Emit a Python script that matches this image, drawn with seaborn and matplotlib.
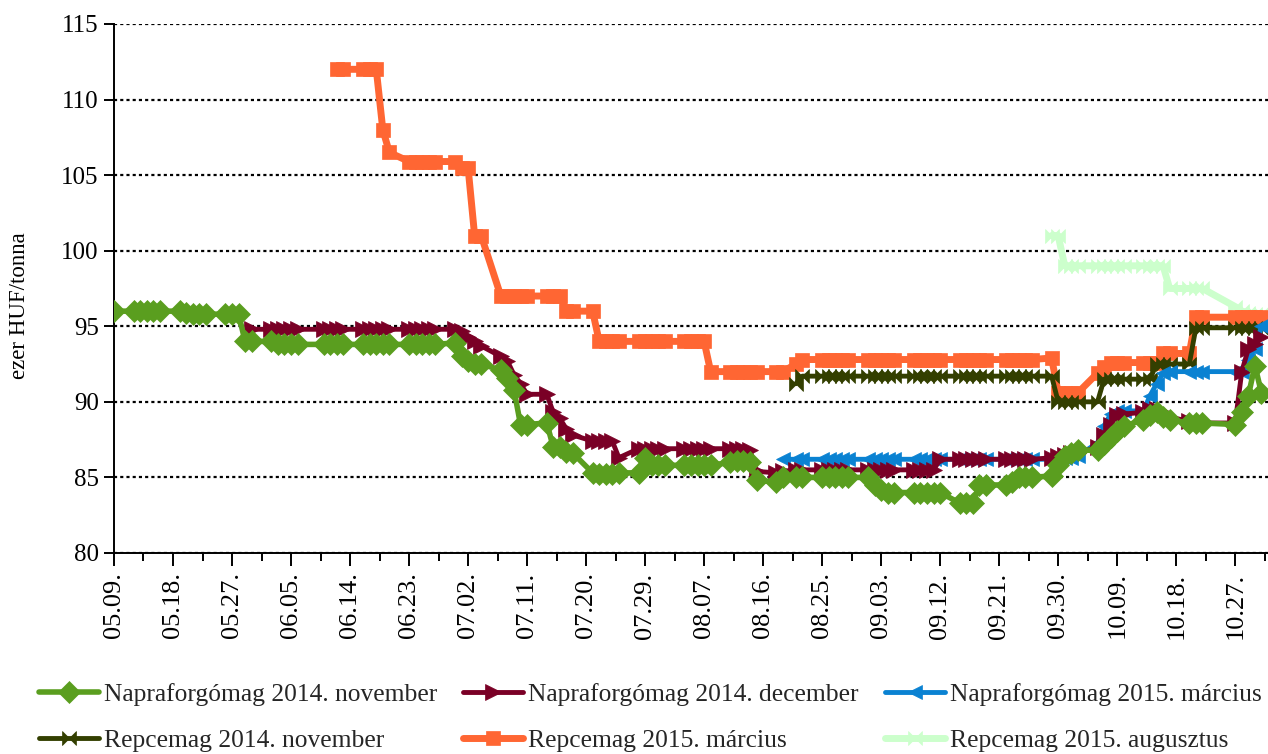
import numpy as np
import pandas as pd
import seaborn as sns
import matplotlib.pyplot as plt
import matplotlib.dates as mdates
from matplotlib.ticker import FixedLocator

# kereskedési napok 2014 (hétvégék és ünnepnapok nélkül)
napok = pd.bdate_range('2014-05-09', '2014-10-31')
napok = napok.drop(pd.to_datetime(['2014-06-09', '2014-08-20', '2014-10-23', '2014-10-24']))

nevek = ['Napraforgómag 2014. november', 'Napraforgómag 2014. december',
         'Napraforgómag 2015. március', 'Repcemag 2014. november',
         'Repcemag 2015. március', 'Repcemag 2015. augusztus']
kezdet = ['2014-05-09', '2014-05-30', '2014-08-19', '2014-08-21', '2014-06-12', '2014-09-29']

# egy sor = egy hét
napra_nov = [96.0,
             96.0, 96.0, 96.0, 96.0, 96.0,
             96.0, 95.9, 95.8, 95.8, 95.8,
             95.8, 95.8, 95.8, 94.0, 94.0,
             94.0, 93.8, 93.8, 93.8, 93.8,
             93.8, 93.8, 93.8, 93.8,
             93.8, 93.8, 93.8, 93.8, 93.8,
             93.8, 93.8, 93.8, 93.8, 93.8,
             93.9, 93.0, 92.7, 92.5, 92.5,
             92.1, 91.6, 90.8, 88.5, 88.5,
             88.6, 87.0, 87.0, 86.7, 86.6,
             85.3, 85.2, 85.2, 85.2, 85.3,
             85.3, 86.3, 85.8, 85.8, 85.8,
             85.8, 85.8, 85.8, 85.8, 85.8,
             86.0, 86.1, 86.1, 86.0, 84.8,
             84.7, 85.0, 85.0, 85.0,
             85.0, 85.0, 85.0, 85.0, 85.0,
             85.0, 84.5, 84.2, 84.0, 84.0,
             84.0, 84.0, 84.0, 84.0, 84.0,
             83.3, 83.3, 83.3, 84.5, 84.5,
             84.5, 84.7, 85.0, 85.0, 85.0,
             85.1, 85.8, 86.4, 86.6, 86.8,
             86.8, 87.2, 87.7, 88.1, 88.4,
             88.8, 89.1, 89.3, 89.0, 88.8,
             88.6, 88.6, 88.6,
             88.5, 89.3, 90.4, 92.4, 90.6]

napra_dec = [94.8,
             94.8, 94.8, 94.8, 94.8, 94.8,
             94.8, 94.8, 94.8, 94.8,
             94.8, 94.8, 94.8, 94.8, 94.8,
             94.8, 94.8, 94.8, 94.8, 94.8,
             94.8, 94.7, 94.3, 94.0, 93.7,
             93.0, 92.7, 91.8, 91.2, 90.5,
             90.5, 89.3, 88.9, 88.2, 87.8,
             87.4, 87.4, 87.4, 87.4, 86.3,
             86.9, 86.9, 86.9, 86.9, 86.9,
             86.9, 86.9, 86.9, 86.9, 86.9,
             86.9, 86.9, 86.9, 86.8, 85.4,
             85.3, 85.4, 85.5, 85.5,
             85.5, 85.5, 85.5, 85.5, 85.5,
             85.5, 85.5, 85.5, 85.5, 85.5,
             85.5, 85.5, 85.5, 85.5, 86.2,
             86.2, 86.2, 86.2, 86.2, 86.2,
             86.2, 86.2, 86.2, 86.2, 86.2,
             86.3, 86.4, 86.5, 86.6, 86.6,
             87.0, 87.8, 88.5, 89.1, 89.2,
             89.3, 89.5, 89.5, 89.3, 89.0,
             88.7, 88.6, 88.6,
             88.6, 92.0, 93.5, 93.8, 94.3]

napra_marc = [86.2, 86.2, 86.2,
              86.2, 86.2, 86.2, 86.2, 86.2,
              86.2, 86.2, 86.2, 86.2, 86.2,
              86.2, 86.2, 86.2, 86.2, 86.2,
              86.2, 86.2, 86.2, 86.2, 86.2,
              86.2, 86.2, 86.2, 86.2, 86.2,
              86.2, 86.2, 86.3, 86.3, 86.4,
              87.3, 88.4, 89.2, 89.4, 89.4,
              89.4, 90.4, 91.2, 91.9, 92.0,
              92.0, 92.0, 92.0,
              92.0, 92.0, 92.8, 93.5, 95.0]

repce_nov = [91.2, 91.7,
             91.7, 91.7, 91.7, 91.7, 91.7,
             91.7, 91.7, 91.7, 91.7, 91.7,
             91.7, 91.7, 91.7, 91.7, 91.7,
             91.7, 91.7, 91.7, 91.7, 91.7,
             91.7, 91.7, 91.7, 91.7, 91.7,
             91.7, 90.0, 90.0, 90.0, 90.0,
             90.0, 91.5, 91.5, 91.5, 91.5,
             91.5, 91.5, 92.5, 92.5, 92.5,
             92.5, 94.9, 94.9,
             94.9, 94.9, 94.9, 94.9, 94.9]

repce_marc = [112.0, 112.0,
              112.0, 112.0, 112.0, 108.0, 106.5,
              105.9, 105.9, 105.9, 105.9, 105.9,
              105.9, 105.5, 105.5, 101.0, 101.0,
              97.0, 97.0, 97.0, 97.0, 97.0,
              97.0, 97.0, 97.0, 96.0, 96.0,
              96.0, 94.0, 94.0, 94.0, 94.0,
              94.0, 94.0, 94.0, 94.0, 94.0,
              94.0, 94.0, 94.0, 94.0, 92.0,
              92.0, 92.0, 92.0, 92.0, 92.0,
              92.0, 92.0, 92.5, 92.8,
              92.8, 92.8, 92.8, 92.8, 92.8,
              92.8, 92.8, 92.8, 92.8, 92.8,
              92.8, 92.8, 92.8, 92.8, 92.8,
              92.8, 92.8, 92.8, 92.8, 92.8,
              92.8, 92.8, 92.8, 92.8, 92.8,
              92.9, 90.6, 90.6, 90.6, 90.6,
              91.9, 92.3, 92.6, 92.6, 92.6,
              92.6, 92.6, 92.6, 93.2, 93.2,
              93.2, 95.6, 95.6,
              95.6, 95.6, 95.6, 95.6, 95.6]

repce_aug = [101.0, 101.0, 99.0, 99.0, 99.0,
             99.0, 99.0, 99.0, 99.0, 99.0,
             99.0, 99.0, 99.0, 99.0, 97.5,
             97.5, 97.5, 97.5,
             96.3, 96.0, 95.9, 95.8, 95.8]

adatok = [napra_nov, napra_dec, napra_marc, repce_nov, repce_marc, repce_aug]
szinek = ['#5a9e1f', '#7a0026', '#0a82d2', '#333f00', '#ff6633', '#ccffcc']
bowtie = [(-1, -1), (1, 1), (1, -1), (-1, 1), (-1, -1)]
jelek = ['D', '>', '<', bowtie, 's', bowtie]
meretek = [11, 11, 10, 10, 9.5, 10]
vastag = [4, 3.5, 3.5, 3.5, 5, 5]
retegek = [8, 7, 6, 5, 4, 3]

sns.set_theme(style='ticks')
plt.rcParams['font.family'] = ['Liberation Serif', 'DejaVu Serif']

fig = plt.figure(figsize=(12.68, 7.54), dpi=100)
ax = fig.add_axes([0.0899, 0.2666, 0.9101, 0.7016])

for nev, start, ertek, szin, jel, ms, lw, z in zip(nevek, kezdet, adatok, szinek, jelek,
                                                  meretek, vastag, retegek):
    i = napok.get_loc(pd.Timestamp(start))
    df = pd.DataFrame({'datum': napok[i:i + len(ertek)], 'ar': ertek})
    sns.lineplot(data=df, x='datum', y='ar', ax=ax, color=szin, marker=jel, markersize=ms,
                 markeredgecolor=szin, markeredgewidth=0.5, linewidth=lw, zorder=z,
                 estimator=None, label=nev)

ax.set_ylim(80, 115)
ax.set_yticks(range(80, 116, 5))
ax.set_xlim(pd.Timestamp('2014-05-09'), pd.Timestamp('2014-11-01'))
fo_tick = pd.date_range('2014-05-09', '2014-10-27', freq='9D')
ax.set_xticks(fo_tick)
ax.set_xticklabels([d.strftime('%m.%d.') for d in fo_tick], rotation=90)
ax.xaxis.set_minor_locator(FixedLocator(mdates.date2num(fo_tick) + 4.5))

ax.grid(axis='y', color='black', linestyle=(0, (1.4, 1.4)), linewidth=1.6, zorder=0)
ax.set_axisbelow(True)
for s in ['top', 'right']:
    ax.spines[s].set_visible(False)
for s in ['left', 'bottom']:
    ax.spines[s].set_color('black')
    ax.spines[s].set_linewidth(1.4)
ax.tick_params(axis='y', which='major', direction='out', length=7, width=1.4,
               labelsize=18, pad=4, colors='black')
ax.tick_params(axis='x', which='major', direction='out', length=9, width=1.4,
               labelsize=19, pad=5, colors='black')
ax.tick_params(axis='x', which='minor', direction='out', length=6, width=1.4, colors='black')

ax.set_xlabel('')
ax.set_ylabel('ezer HUF/tonna', fontsize=16.5, color='black')
ax.yaxis.set_label_coords(-0.073, 0.467)

h, l = ax.get_legend_handles_labels()
ax.get_legend().remove()
sor = [0, 3, 1, 4, 2, 5]
fig.legend([h[k] for k in sor], [l[k] for k in sor], ncol=3, loc='upper left',
           bbox_to_anchor=(0.031, 0.0947), frameon=False, fontsize=18.4,
           handlelength=2.35, handletextpad=0.2, columnspacing=1.0,
           labelspacing=0.93, borderpad=0, borderaxespad=0)

fig.savefig('out.png', dpi=100)
